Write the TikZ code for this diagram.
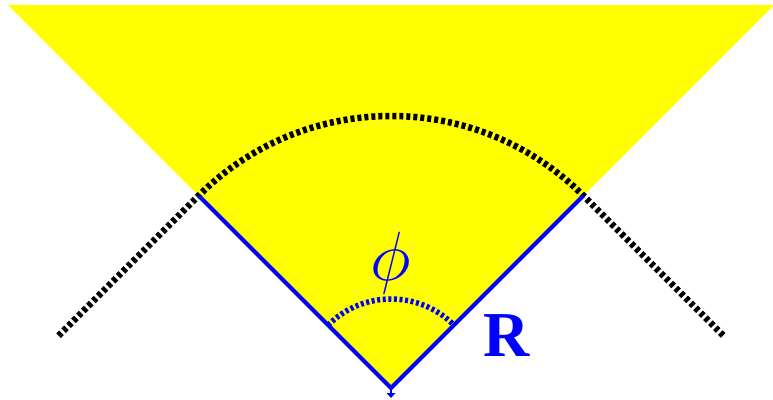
\documentclass[tikz,border=0pt]{standalone}
\usepackage{fontspec}
\newfontfamily\labelfont{Liberation Serif}
\usepackage{xcolor}
\definecolor{wYellow}{HTML}{FFFF00}
\definecolor{wBlue}{HTML}{0000FF}
\usepackage{tikz}
\usetikzlibrary{arrows.meta, calc}

\begin{document}
\begin{tikzpicture}[x=1pt,y=1pt]
\useasboundingbox (0,0) rectangle (773,399);
\pgfmathsetmacro{\rOut}{272}
\pgfmathsetmacro{\rIn}{89}

\coordinate (apex) at (391,11);
\coordinate (leftEnd) at ($(apex)+(135:\rOut)$);
\coordinate (rightEnd) at ($(apex)+(45:\rOut)$);

% light cone
\fill[wYellow] (apex) -- (8,394) -- (774,394) -- cycle;

\draw[line width=6.5, dash pattern=on 4 off 3] ($(leftEnd)+(225:198)$) -- (leftEnd)
  arc (135:45:\rOut) -- ++(-45:198);

\draw[wBlue, line width=4] (leftEnd) -- (apex) -- (rightEnd);
\draw[wBlue, line width=1.5] (apex) -- ++(0,-5);
\fill[wBlue] ($(apex)+(-4.5,-5)$) -- ($(apex)+(4.5,-5)$) -- ($(apex)+(0,-10)$) -- cycle;
\draw[wBlue, line width=5.5, dash pattern=on 3 off 2.6] ($(apex)+(135:\rIn)$) arc (135:45:\rIn);

\node[wBlue, font=\Huge, scale=2.8] (phiLabel) at (391,136) {$\phi$};
\node[wBlue, font=\labelfont\bfseries\fontsize{64}{64}\selectfont] (rLabel) at (507,63) {R};
\end{tikzpicture}
\end{document}
